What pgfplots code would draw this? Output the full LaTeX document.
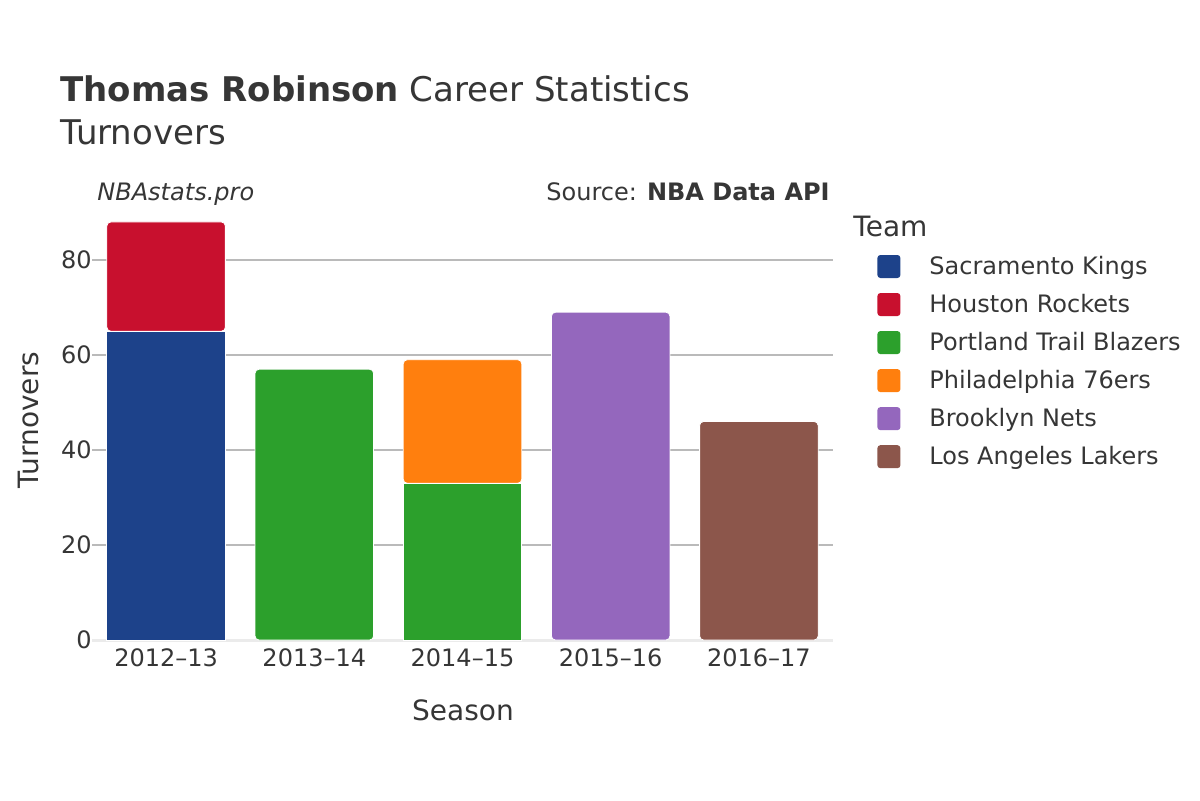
\documentclass[border=0pt]{standalone}
\usepackage{pgfplots}
\pgfplotsset{compat=1.18}
\usepackage{fontspec}
\setmainfont{DejaVu Sans}
\definecolor{txt}{HTML}{363636}
\definecolor{kings}{HTML}{1D428A}
\definecolor{rockets}{HTML}{C8102E}
\definecolor{blazers}{HTML}{2CA02C}
\definecolor{sixers}{HTML}{FF7F0E}
\definecolor{nets}{HTML}{9467BD}
\definecolor{lakers}{HTML}{8C564B}
\begin{document}
\begin{tikzpicture}[x=1pt,y=1pt]
\path[fill=white] (0,0) rectangle (600,400);
\begin{axis}[
  at={(46pt,80pt)}, anchor=south west, scale only axis,
  width=370.5pt, height=220pt,
  ybar stacked, bar width=0.8,
  xmin=-0.5, xmax=4.5, ymin=0, ymax=92.63,
  xtick={0,1,2,3,4},
  xticklabels={2012–13,2013–14,2014–15,2015–16,2016–17},
  ytick={20,40,60,80},
  extra y ticks={0},
  extra y tick style={grid style={color=black!8, line width=1.5pt}},
  axis line style={draw=none},
  major tick length=0pt,
  ymajorgrids,
  grid style={color=black!27, line width=0.6pt},
  /pgf/number format/assume math mode=true,
  ticklabel style={font=\fontsize{12}{14}\selectfont, text=txt},
  yticklabel style={inner sep=0pt, xshift=0pt},
  xticklabel style={yshift=-1pt},
  every axis plot/.append style={draw=white, line width=0.4pt},
  legend style={at={(1.0594,0.883)}, anchor=north west, draw=none, fill=none,
    font=\fontsize{12}{14}\selectfont, text=txt, column sep=12.5pt, row sep=4.4pt,
    inner sep=0pt},
  legend cell align=left,
  legend image code/.code={\fill[#1, draw=none, rounded corners=1.5pt] (0pt,-5.75pt) rectangle (11.5pt,5.75pt);},
]
\addplot[fill=kings] coordinates {(0,65) (1,0) (2,0) (3,0) (4,0)};
\addplot[fill=rockets, rounded corners=2pt] coordinates {(0,23) (1,0) (2,0) (3,0) (4,0)};
\addplot[fill=blazers, forget plot] coordinates {(0,0) (1,0) (2,33) (3,0) (4,0)};
\addplot[fill=blazers, rounded corners=2pt] coordinates {(0,0) (1,57) (2,0) (3,0) (4,0)};
\addplot[fill=sixers, rounded corners=2pt] coordinates {(0,0) (1,0) (2,26) (3,0) (4,0)};
\addplot[fill=nets, rounded corners=2pt] coordinates {(0,0) (1,0) (2,0) (3,69) (4,0)};
\addplot[fill=lakers, rounded corners=2pt] coordinates {(0,0) (1,0) (2,0) (3,0) (4,46)};
\legend{Sacramento Kings, Houston Rockets, Portland Trail Blazers, Philadelphia 76ers, Brooklyn Nets, Los Angeles Lakers}
\end{axis}
\node[anchor=base west, inner sep=0pt, text=txt, font=\fontsize{17}{20}\selectfont] at (30,349) {\textbf{Thomas Robinson} Career Statistics};
\node[anchor=base west, inner sep=0pt, text=txt, font=\fontsize{17}{20}\selectfont] at (30,327.5) {Turnovers};
\node[anchor=base west, inner sep=0pt, text=txt, font=\fontsize{12}{14}\selectfont\itshape] at (48.5,300) {NBAstats.pro};
\node[anchor=base east, inner sep=0pt, text=txt, font=\fontsize{12}{14}\selectfont] at (415,300) {Source: \textbf{NBA Data API}};
\node[anchor=base west, inner sep=0pt, text=txt, font=\fontsize{14}{16}\selectfont] at (426.5,282) {Team};
\node[anchor=base, inner sep=0pt, text=txt, font=\fontsize{14}{16}\selectfont] at (231.5,40) {Season};
\node[anchor=center, rotate=90, inner sep=0pt, text=txt, font=\fontsize{14}{16}\selectfont] at (14,190) {Turnovers};
\end{tikzpicture}
\end{document}
